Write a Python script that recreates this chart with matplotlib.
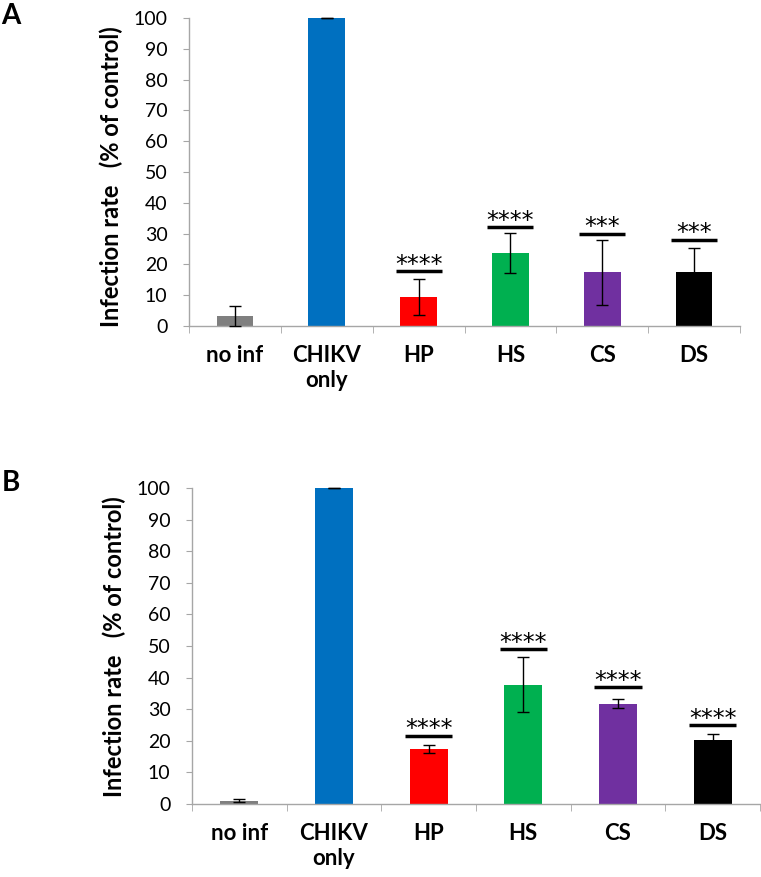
import matplotlib
matplotlib.use('Agg')
import matplotlib.pyplot as plt
import numpy as np

plt.rcParams['font.family'] = ['Lato', 'DejaVu Sans']

# data
categories = ['no inf', 'CHIKV\nonly', 'HP', 'HS', 'CS', 'DS']
colors = ['#7f7f7f', '#0070c0', '#ff0000', '#00b050', '#7030a0', '#000000']

a_values = [3.2, 100, 9.4, 23.7, 17.4, 17.4]
a_errors = [3.3, 0.0, 5.7, 6.6, 10.5, 8.0]
a_stars = ['', '', '****', '****', '***', '***']
a_star_lines = [0, 0, 17.8, 32.0, 30.0, 28.0]

b_values = [1.1, 100, 17.4, 37.8, 31.7, 20.3]
b_errors = [0.5, 0.0, 1.2, 8.8, 1.4, 1.8]
b_stars = ['', '', '****', '****', '****', '****']
b_star_lines = [0, 0, 21.6, 49.0, 37.0, 25.0]

W, H = 761, 877
fig = plt.figure(figsize=(W / 100, H / 100), dpi=100)


def panel(rect, values, errors, stars, star_lines, label, label_pos, ylab_pos):
    left, top, right, bottom = rect
    ax = fig.add_axes([left / W, 1 - bottom / H, (right - left) / W, (bottom - top) / H])
    x = np.arange(len(categories))
    ax.bar(x, values, width=0.4, color=colors, zorder=2)
    ax.errorbar(x, values, yerr=errors, fmt='none', ecolor='black', elinewidth=1,
                capsize=4, capthick=1, zorder=3, clip_on=False)
    for xi, s, yl in zip(x, stars, star_lines):
        if not s:
            continue
        ax.plot([xi - 0.25, xi + 0.25], [yl, yl], color='black', lw=2.5,
                solid_capstyle='butt', clip_on=False, zorder=4)
        ax.annotate(s, (xi, yl), xytext=(0, -4), textcoords='offset points',
                    ha='center', va='bottom', fontsize=17, family='DejaVu Sans')
    ax.set_xlim(-0.5, len(categories) - 0.5)
    ax.set_ylim(0, 100)
    ax.set_yticks(range(0, 101, 10))
    ax.set_xticks(x)
    ax.set_xticklabels(categories, fontsize=16, fontweight='bold', linespacing=1.2)
    ax.set_xticks(np.arange(-0.5, len(categories)), minor=True)
    ax.tick_params(axis='x', which='major', length=0, pad=14)
    ax.tick_params(axis='x', which='minor', length=5, color='#a6a6a6', direction='out')
    ax.tick_params(axis='y', length=4.5, color='#a6a6a6', labelsize=14, pad=11)
    for sp in ['top', 'right']:
        ax.spines[sp].set_visible(False)
    for sp in ['left', 'bottom']:
        ax.spines[sp].set_color('#a6a6a6')
        ax.spines[sp].set_linewidth(1)
    fig.text(ylab_pos[0] / W, 1 - ylab_pos[1] / H, 'Infection rate   (% of control)',
             rotation=90, ha='center', va='center', fontsize=17, fontweight='bold')
    fig.text(label_pos[0] / W, 1 - label_pos[1] / H, label, ha='left', va='top',
             fontsize=20, fontweight='bold')
    return ax


panel((189, 18, 740, 326), a_values, a_errors, a_stars, a_star_lines, 'A', (1, 3), (111, 177))
panel((192, 488, 760, 804), b_values, b_errors, b_stars, b_star_lines, 'B', (2, 470), (114, 647))

fig.savefig('out.png', dpi=100)
